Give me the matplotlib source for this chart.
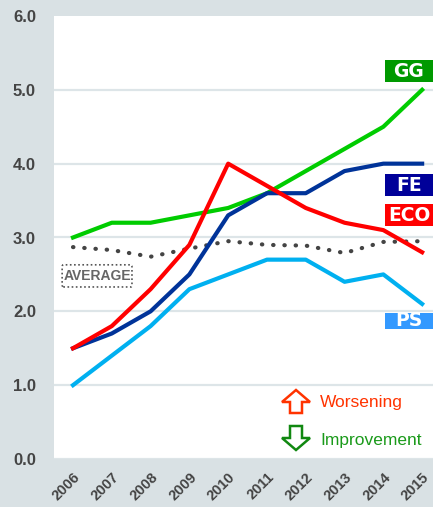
import matplotlib.pyplot as plt
from matplotlib.patches import Rectangle, FancyBboxPatch, Polygon

years = ['2006', '2007', '2008', '2009', '2010', '2011', '2012', '2013', '2014', '2015']
gg = [3.0, 3.2, 3.2, 3.3, 3.4, 3.6, 3.9, 4.2, 4.5, 5.0]
fe = [1.5, 1.7, 2.0, 2.5, 3.3, 3.6, 3.6, 3.9, 4.0, 4.0]
eco = [1.5, 1.8, 2.3, 2.9, 4.0, 3.7, 3.4, 3.2, 3.1, 2.8]
ps = [1.0, 1.4, 1.8, 2.3, 2.5, 2.7, 2.7, 2.4, 2.5, 2.1]
average = [2.87, 2.83, 2.74, 2.85, 2.95, 2.9, 2.89, 2.79, 2.94, 2.95]
yticks = [0, 1, 2, 3, 4, 5, 6]

bg = '#d9e1e4'
fig = plt.figure(figsize=(4.33, 5.07), dpi=100, facecolor=bg)
W, H = 433, 507
ax = fig.add_axes([54 / W, (H - 459) / H, (W - 54) / W, (459 - 16) / H])
ax.set_facecolor('white')
x = list(range(len(years)))

for v in yticks[:-1]:
    ax.axhline(v, color='#dde5e8', lw=1.6, zorder=1)

ax.plot(x, average, color='#444444', lw=3, ls=(0, (0.1, 2.6)),
        dash_capstyle='round', zorder=2)
ax.plot(x, ps, color='#00b0f0', lw=3, zorder=3)
ax.plot(x, gg, color='#00cc00', lw=3, zorder=3)
ax.plot(x, fe, color='#003399', lw=3, zorder=3)
ax.plot(x, eco, color='#ff0000', lw=3, zorder=4)

ax.set_xlim(-0.49, 9.28)
ax.set_ylim(0, 6)
ax.set_yticks(yticks)
ax.set_yticklabels([f'{v:.1f}' for v in yticks], fontsize=12, fontweight='bold',
                   color='#444444', family='Liberation Sans')
ax.set_xticks(x)
ax.set_xticklabels(years, rotation=45, ha='right', rotation_mode='anchor',
                   fontsize=10.5, fontweight='bold', color='#444444',
                   family='Liberation Sans')
ax.tick_params(axis='y', length=0, pad=13)
ax.tick_params(axis='x', length=0, pad=8)
for s in ax.spines.values():
    s.set_visible(False)

# series name tags on the right
tags = [('GG', '#009900', 5.10, 5.40), ('FE', '#000099', 3.56, 3.86),
        ('ECO', '#ff0000', 3.15, 3.45), ('PS', '#3399ff', 1.76, 1.98)]
for name, col, y0, y1 in tags:
    ax.add_patch(Rectangle((8.04, y0), 1.4, y1 - y0, facecolor=col,
                           edgecolor='none', clip_on=False, zorder=5))
    ax.text(8.66, (y0 + y1) / 2, name, color='white', fontsize=13.5,
            fontweight='heavy', ha='center', va='center', zorder=6,
            family='DejaVu Sans')

# average tag with dotted frame
ax.add_patch(FancyBboxPatch((-0.28, 2.33), 1.8, 0.30,
                            boxstyle='round,pad=0,rounding_size=0.03',
                            facecolor='white', edgecolor='#555555', lw=1.2,
                            ls=(0, (1, 1.5)), zorder=5))
ax.text(0.62, 2.48, 'AVERAGE', color='#666666', fontsize=10, fontweight='bold',
        ha='center', va='center', zorder=6, family='Liberation Sans')


def block_arrow(cx, top, bottom, up, color):
    # outlined block arrow in figure pixels
    hw, sw, hh = 14, 6, 12
    if up:
        pts = [(cx, top), (cx + hw, top + hh), (cx + sw, top + hh), (cx + sw, bottom),
               (cx - sw, bottom), (cx - sw, top + hh), (cx - hw, top + hh)]
    else:
        pts = [(cx, bottom), (cx + hw, bottom - hh), (cx + sw, bottom - hh), (cx + sw, top),
               (cx - sw, top), (cx - sw, bottom - hh), (cx - hw, bottom - hh)]
    pts = [(px / W, (H - py) / H) for px, py in pts]
    fig.patches.append(Polygon(pts, closed=True, facecolor='none', edgecolor=color,
                               lw=1.8, transform=fig.transFigure, figure=fig))


block_arrow(296, 390, 413, True, '#ff3300')
block_arrow(296, 426, 450, False, '#118811')
fig.text(320 / W, (H - 403) / H, 'Worsening', color='#ff3300', fontsize=12.5,
         va='center', ha='left', family='Liberation Sans')
fig.text(320 / W, (H - 440) / H, 'Improvement', color='#1a9a1a', fontsize=12.5,
         va='center', ha='left', family='Liberation Sans')

fig.savefig('out.png', dpi=100, facecolor=bg)
